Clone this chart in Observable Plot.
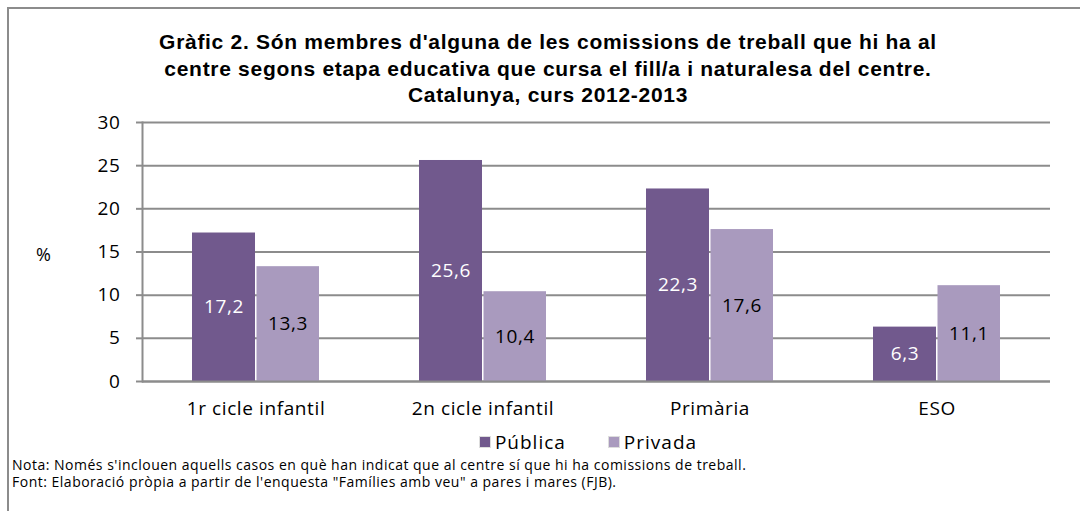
<!DOCTYPE html>
<html>
<head>
<meta charset="utf-8">
<script src="https://cdn.jsdelivr.net/npm/d3@7"></script>
<script src="https://cdn.jsdelivr.net/npm/@observablehq/plot@0.6"></script>
<style>
  html, body { margin: 0; padding: 0; background: #fff; }
  #wrap { position: relative; width: 1080px; height: 511px; overflow: hidden; font-family: "Open Sans", sans-serif; }
  #frame { position: absolute; left: 7px; top: 7px; width: 1200px; height: 600px; border-top: 2px solid #8c8c8c; border-left: 2px solid #8c8c8c; }
  #title { position: absolute; left: 0; width: 1080px; top: 29px; padding-left: 16px; box-sizing: border-box; text-align: center; font-family: "Liberation Sans", sans-serif; font-weight: bold; font-size: 21px; letter-spacing: 0.7px; line-height: 26.5px; color: #000; }
  #chart { position: absolute; left: 0; top: 110px; }
  #ylab { position: absolute; left: 36px; top: 242px; font-size: 18px; }
  #legend { position: absolute; left: 0; width: 1080px; top: 429px; display: flex; justify-content: center; gap: 42px; font-size: 19px; letter-spacing: 1px; padding-left: 96px; box-sizing: border-box; }
  #legend span.sw { display: inline-block; width: 10px; height: 10px; margin-right: 4px; border: 1px solid #ddd; vertical-align: 1px; }
  #notes { position: absolute; left: 12px; top: 456px; font-family: "Open Sans", sans-serif; font-size: 14px; letter-spacing: 0.5px; line-height: 17px; }
</style>
</head>
<body>
<div id="wrap">
  <div id="frame"></div>
  <div id="title">Gràfic 2. Són membres d'alguna de les comissions de treball que hi ha al<br>centre segons etapa educativa que cursa el fill/a i naturalesa del centre.<br>Catalunya, curs 2012-2013</div>
  <div id="chart"></div>
  <div id="ylab">%</div>
  <div id="legend"></div>
  <div id="notes">Nota: Només s'inclouen aquells casos en què han indicat que al centre sí que hi ha comissions de treball.<br>Font: Elaboració pròpia a partir de l'enquesta "Famílies amb veu" a pares i mares (FJB).</div>
</div>
<script>
const categories = ["1r cicle infantil", "2n cicle infantil", "Primària", "ESO"];
const series = ["Pública", "Privada"];
const publica = [17.2, 25.6, 22.3, 6.3];
const privada = [13.3, 10.4, 17.6, 11.1];
const yTicks = [0, 5, 10, 15, 20, 25, 30];
const colors = ["#71598d", "#a99abe"];
const labelColors = ["#ffffff", "#000000"];

const pubData = categories.map((c, i) => ({cat: c, serie: series[0], value: publica[i]}));
const privData = categories.map((c, i) => ({cat: c, serie: series[1], value: privada[i]}));
const fmt = v => v.toFixed(1).replace(".", ",");

const chart = Plot.plot({
  width: 1080,
  height: 315,
  marginTop: 12,
  marginLeft: 142,
  marginRight: 30,
  marginBottom: 44,
  style: {fontFamily: "Open Sans, sans-serif", fontSize: "19px", letterSpacing: "0.6px", color: "#000", background: "transparent"},
  x: {domain: categories, paddingInner: 0.44, paddingOuter: 0.22, label: null},
  y: {domain: [0, 30], label: null},
  color: {domain: series, range: colors},
  marks: [
    Plot.gridY(yTicks, {stroke: "#8c8c8c", strokeOpacity: 1, strokeWidth: 2}),
    Plot.frame({anchor: "left", stroke: "#8c8c8c", strokeWidth: 2}),
    Plot.axisY({ticks: yTicks, tickSize: 6, tickPadding: 16, stroke: "#8c8c8c", strokeWidth: 2, color: "#000", label: null, tickFormat: d => String(d)}),
    Plot.axisX({tickSize: 0, tickPadding: 20, label: null}),
    Plot.barY(pubData, {x: "cat", y: "value", fill: "serie", insetRight: 64}),
    Plot.barY(privData, {x: "cat", y: "value", fill: "serie", insetLeft: 64.5}),
    Plot.text(pubData, {x: "cat", y: d => d.value / 2, dx: -32, text: d => fmt(d.value), fill: labelColors[0]}),
    Plot.text(privData, {x: "cat", y: d => d.value / 2, dx: 32, text: d => fmt(d.value), fill: labelColors[1]}),
    Plot.ruleY([0], {stroke: "#8c8c8c", strokeWidth: 2})
  ]
});
document.getElementById("chart").appendChild(chart);

const legend = document.getElementById("legend");
series.forEach((s, i) => {
  const item = document.createElement("div");
  item.innerHTML = `<span class="sw" style="background:${colors[i]}"></span>${s}`;
  legend.appendChild(item);
});
</script>
</body>
</html>
